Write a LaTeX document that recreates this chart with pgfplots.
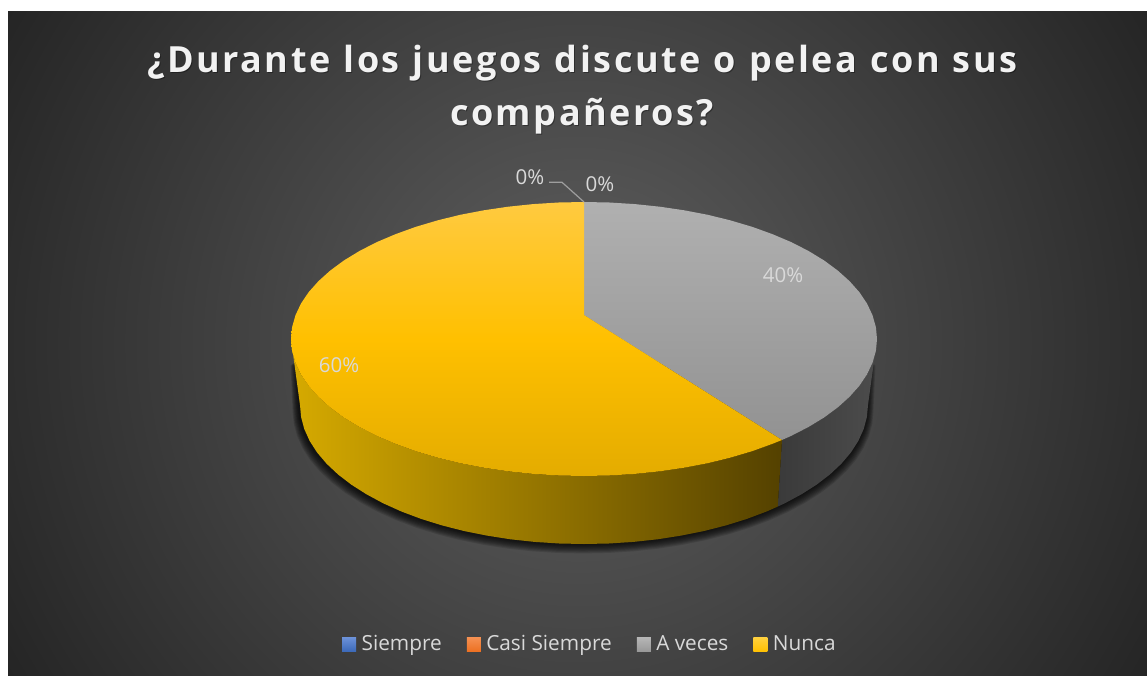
\documentclass[border=0pt]{standalone}
\usepackage{pgfplots}
\usepackage{pgfplotstable}
\usepackage{fontspec}
\pgfplotsset{compat=1.18}
\setmainfont{Open Sans}
\newfontfamily\titlefont[LetterSpace=7,WordSpace=1.1,BoldFont={Open Sans Bold}]{Open Sans}

\definecolor{bgcentre}{HTML}{606060}
\definecolor{bgedge}{HTML}{252525}
\definecolor{labeltext}{HTML}{D9D9D9}
\definecolor{titletext}{HTML}{F2F2F2}
\pgfdeclareradialshading{chartback}{\pgfpoint{0bp}{0bp}}{%
  color(0bp)=(bgcentre); color(25bp)=(bgedge); color(50bp)=(bgedge)}

% Rim of the upper face: A veces slice, outer arc from twelve o'clock
\pgfplotstableread{
x y
584 315
584 202
609.5 202.5
634.9 204.1
659.8 206.7
684.2 210.3
707.8 214.8
730.5 220.4
752.1 226.8
772.3 234.1
791.2 242.1
808.4 250.9
824 260.4
837.7 270.5
849.5 281.1
859.3 292.1
867 303.5
872.5 315.2
875.9 327.1
877 339
875.9 350.9
872.5 362.8
867 374.5
859.3 385.9
849.5 396.9
837.7 407.5
824 417.6
808.4 427.1
791.2 435.9
782 440
}\topgray

% Nunca slice, upper face
\pgfplotstableread{
x y
584 315
782 440
772.3 443.9
752.1 451.2
730.5 457.6
707.8 463.2
684.2 467.7
659.8 471.3
634.9 473.9
609.5 475.5
584 476
558.5 475.5
533.1 473.9
508.2 471.3
483.8 467.7
460.2 463.2
437.5 457.6
415.9 451.2
395.7 443.9
376.8 435.9
359.6 427.1
344 417.6
330.3 407.5
318.5 396.9
308.7 385.9
301 374.5
295.5 362.8
292.1 350.9
291 339
292.1 327.1
295.5 315.2
301 303.5
308.7 292.1
318.5 281.1
330.3 270.5
344 260.4
359.6 250.9
376.8 242.1
395.7 234.1
415.9 226.8
437.5 220.4
460.2 214.8
483.8 210.3
508.2 206.7
533.1 204.1
558.5 202.5
584 202
}\topyellow

% Nunca slice, rim wall
\pgfplotstableread{
x y
782 440
772.3 443.9
752.1 451.2
730.5 457.6
707.8 463.2
684.2 467.7
659.8 471.3
634.9 473.9
609.5 475.5
584 476
558.5 475.5
533.1 473.9
508.2 471.3
483.8 467.7
460.2 463.2
437.5 457.6
415.9 451.2
395.7 443.9
376.8 435.9
359.6 427.1
344 417.6
330.3 407.5
318.5 396.9
308.7 385.9
301 374.5
295.5 362.8
292.1 350.9
291 339
300 405
301.1 417.1
304.3 429.1
309.7 441
317.1 452.5
326.6 463.7
338.1 474.5
351.4 484.7
366.5 494.3
383.2 503.3
401.4 511.5
421.1 518.9
442 525.4
464 531
486.9 535.6
510.5 539.3
534.7 541.9
559.2 543.5
584 544
608.8 543.5
633.3 541.9
657.5 539.3
681.1 535.6
704 531
726 525.4
746.9 518.9
766.6 511.5
777.7 506.6
}\sideyellow

% A veces slice, rim wall
\pgfplotstableread{
x y
877 339
875.9 350.9
872.5 362.8
867 374.5
859.3 385.9
849.5 396.9
837.7 407.5
824 417.6
808.4 427.1
791.2 435.9
782 440
777.7 506.6
784.8 503.3
801.5 494.3
816.6 484.7
829.9 474.5
841.4 463.7
850.9 452.5
858.3 441
863.7 429.1
866.9 417.1
868 405
}\sidegray

% Footprint of the disc, the outline for the cast shadow
\pgfplotstableread{
x y
298 360
300 405
301.1 417.1
304.3 429.1
309.7 441
317.1 452.5
326.6 463.7
338.1 474.5
351.4 484.7
366.5 494.3
383.2 503.3
401.4 511.5
421.1 518.9
442 525.4
464 531
486.9 535.6
510.5 539.3
534.7 541.9
559.2 543.5
584 544
608.8 543.5
633.3 541.9
657.5 539.3
681.1 535.6
704 531
726 525.4
746.9 518.9
766.6 511.5
784.8 503.3
801.5 494.3
816.6 484.7
829.9 474.5
841.4 463.7
850.9 452.5
858.3 441
863.7 429.1
866.9 417.1
868 405
870 360
}\footprint

\newcommand{\shadowlayer}[1]{%
  \addplot[draw=none, fill=black, fill opacity=0.13, forget plot]
    table[x expr={583+(\thisrow{x}-584)*(1+#1/400)},
          y expr={405+(\thisrow{y}-405)*(1+#1/400)+0.7*#1}] {\footprint} -- cycle;}

\begin{document}
\begin{tikzpicture}
\begin{axis}[
  width=1147pt, height=676pt, scale only axis,
  xmin=0, xmax=1147, ymin=0, ymax=676, y dir=reverse,
  axis lines=none,
  legend columns=4,
  legend style={
    at={(0.2981,0.0473)}, anchor=west, draw=none, fill=none,
    inner sep=0pt, text=labeltext,
    font=\fontsize{20.8}{24}\selectfont,
    nodes={inner sep=0pt, anchor=base west},
    /tikz/every even column/.append style={column sep=25pt},
    /tikz/every odd column/.append style={column sep=5.5pt},
  },
  legend cell align=left,
]
% chart background with its round glow, then the white page margin
\addplot[draw=none, shading=chartback, forget plot]
  coordinates {(-82,-317) (1238,-317) (1238,1003) (-82,1003)} -- cycle;
\addplot[draw=none, fill=white, forget plot]
  coordinates {(0,0) (1147,0) (1147,11) (0,11)} -- cycle;
\addplot[draw=none, fill=white, forget plot]
  coordinates {(0,0) (8,0) (8,676) (0,676)} -- cycle;

% soft shadow under the disc
\shadowlayer{9}\shadowlayer{8}\shadowlayer{7}\shadowlayer{6}\shadowlayer{5}
\shadowlayer{4}\shadowlayer{3}\shadowlayer{2}\shadowlayer{1}

% rim walls
\addplot[draw=none, shade, left color={rgb,255:red,58;green,58;blue,58},
  right color={rgb,255:red,76;green,76;blue,76}, forget plot] table {\sidegray} -- cycle;
\addplot[draw=none, shade, left color={rgb,255:red,214;green,170;blue,0},
  right color={rgb,255:red,84;green,65;blue,0}, forget plot] table {\sideyellow} -- cycle;

% upper faces
\addplot[draw=none, shade, top color={rgb,255:red,176;green,176;blue,176},
  bottom color={rgb,255:red,146;green,146;blue,146}, forget plot] table {\topgray} -- cycle;
\addplot[draw=none, shade, top color={rgb,255:red,255;green,202;blue,64},
  bottom color={rgb,255:red,228;green,172;blue,0},
  middle color={rgb,255:red,255;green,192;blue,0}, forget plot] table {\topyellow} -- cycle;

% leader line of the Siempre label
\addplot[color={rgb,255:red,158;green,158;blue,158}, line width=1.2pt, forget plot]
  coordinates {(584,202) (562,182.3) (549,182.3)};

% legend keys
\addlegendimage{legend image code/.code={\path[draw=none, top color={rgb,255:red,106;green,144;blue,216},
  bottom color={rgb,255:red,58;green,104;blue,184}] (0pt,-1pt) rectangle (14pt,13pt);}}
\addlegendentry{Siempre}
\addlegendimage{legend image code/.code={\path[draw=none, top color={rgb,255:red,245;green,143;blue,80},
  bottom color={rgb,255:red,236;green,111;blue,32}] (0pt,-1pt) rectangle (14pt,13pt);}}
\addlegendentry{Casi Siempre}
\addlegendimage{legend image code/.code={\path[draw=none, top color={rgb,255:red,181;green,181;blue,181},
  bottom color={rgb,255:red,151;green,151;blue,151}] (0pt,-1pt) rectangle (14pt,13pt);}}
\addlegendentry{A veces}
\addlegendimage{legend image code/.code={\path[draw=none, top color={rgb,255:red,255;green,208;blue,60},
  bottom color={rgb,255:red,255;green,192;blue,0}] (0pt,-1pt) rectangle (14pt,13pt);}}
\addlegendentry{Nunca}

% percentage labels
\tikzset{pct/.style={text=labeltext, inner sep=0pt, font=\fontsize{20.5}{24}\selectfont}}
\node[pct] at (axis cs:530,177) {0\%};
\node[pct] at (axis cs:600,184) {0\%};
\node[pct] at (axis cs:783,275) {40\%};
\node[pct] at (axis cs:339,365) {60\%};

% title, with its faint drop shadow
\tikzset{ttl/.style={inner sep=0pt, anchor=base, font=\titlefont\bfseries\fontsize{36}{40}\selectfont}}
\node[ttl, text=black, text opacity=0.35] at (axis cs:583.5,73.5) {¿Durante los juegos discute o pelea con sus};
\node[ttl, text=black, text opacity=0.35] at (axis cs:583,126.5) {compañeros?};
\node[ttl, text=titletext] at (axis cs:582.5,72) {¿Durante los juegos discute o pelea con sus};
\node[ttl, text=titletext] at (axis cs:582,125) {compañeros?};
\end{axis}
\end{tikzpicture}
\end{document}
